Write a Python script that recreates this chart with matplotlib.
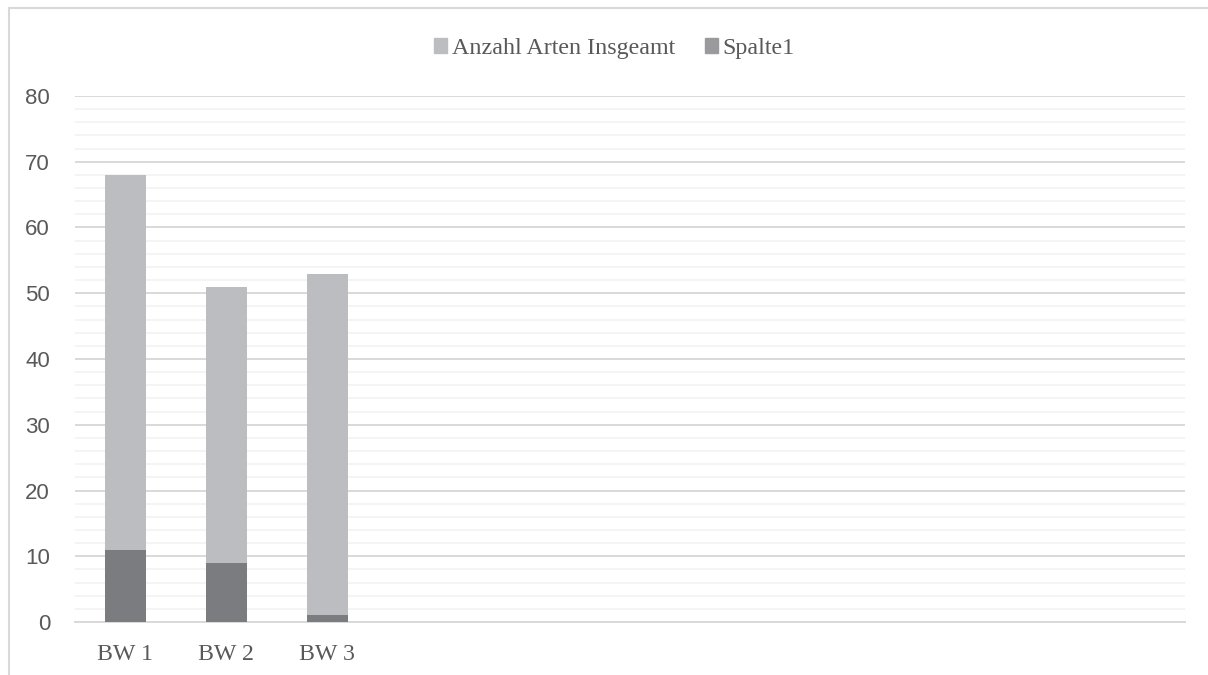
import matplotlib.pyplot as plt
import numpy as np
from matplotlib.patches import Patch, Rectangle

categories = ["BW 1", "BW 2", "BW 3", "", "", "", "", "", "", "", ""]
insgesamt = [68, 51, 53]
spalte1 = [11, 9, 1]

light = "#bcbdc0"
dark = "#7b7c7f"
grid_major = "#d9d9d9"
grid_minor = "#f2f2f2"
text_col = "#595959"


def main():
    fig = plt.figure(figsize=(12.08, 6.75), dpi=100)
    ax = fig.add_axes([0.0621, 0.0785, 0.9189, 0.7793])

    x = np.arange(len(categories))
    width = 0.406
    # overlapping bars: total behind, Spalte1 in front
    ax.bar(x[:len(insgesamt)], insgesamt, width, color=light, zorder=3)
    ax.bar(x[:len(spalte1)], spalte1, width, color=dark, zorder=4)

    ax.set_xlim(-0.5, len(categories) - 0.5)
    ax.set_ylim(0, 80)
    ax.set_yticks(np.arange(0, 81, 10))
    ax.set_yticks(np.arange(0, 81, 2), minor=True)
    ax.grid(axis="y", which="minor", color=grid_minor, linewidth=1.2, zorder=0)
    ax.grid(axis="y", which="major", color=grid_major, linewidth=1.4, zorder=1)

    ax.set_xticks(x)
    ax.set_xticklabels(categories, family="Liberation Serif", fontsize=17.2, color=text_col)
    for lab in ax.get_yticklabels():
        lab.set_family("Liberation Sans")
        lab.set_fontsize(16)
        lab.set_color(text_col)
    ax.tick_params(axis="both", which="both", length=0)
    ax.tick_params(axis="x", pad=15.5)
    ax.tick_params(axis="y", pad=18)
    for side in ["left", "right", "top"]:
        ax.spines[side].set_visible(False)
    ax.spines["bottom"].set_color(grid_major)
    ax.spines["bottom"].set_linewidth(1.4)

    handles = [Patch(color=light, label="Anzahl Arten Insgeamt"),
               Patch(color="#9a9a9d", label="Spalte1")]
    fig.legend(handles=handles, loc="center", bbox_to_anchor=(0.5087, 0.928), ncol=2,
               frameon=False, prop={"family": "Liberation Serif", "size": 17.3},
               labelcolor=text_col, handlelength=0.55, handleheight=0.55,
               handletextpad=0.2, columnspacing=1.23)

    # chart area border
    fig.patches.append(Rectangle((8.5 / 1208, -0.1), 1.2, 1.1 - 8.5 / 675,
                                 transform=fig.transFigure, fill=False,
                                 edgecolor=grid_major, linewidth=1.5))

    fig.savefig("out.png", dpi=100)


if __name__ == "__main__":
    main()
